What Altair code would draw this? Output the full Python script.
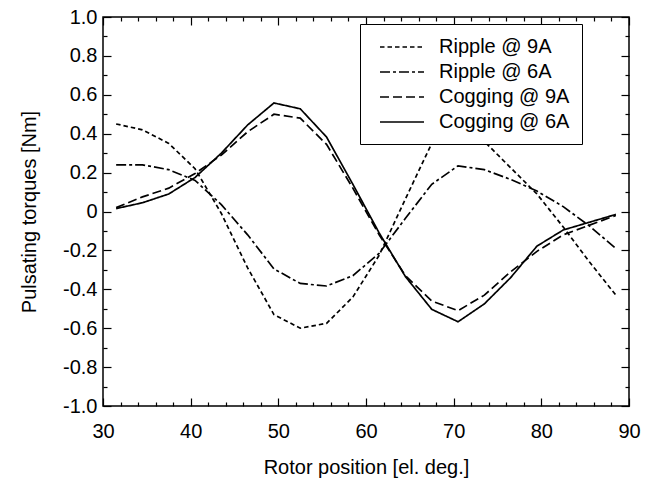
import altair as alt
import pandas as pd

# ---- data ----
x_deg = [31.5, 34.5, 37.5, 40.5, 43.5, 46.5, 49.5, 52.5, 55.5, 58.5,
         61.5, 64.5, 67.5, 70.5, 73.5, 76.5, 79.5, 82.5, 85.5, 88.5]
ripple_9a = [0.45, 0.42, 0.35, 0.22, -0.01, -0.29, -0.53, -0.60, -0.575, -0.44,
             -0.225, 0.065, 0.35, 0.58, 0.36, 0.225, 0.09, -0.08, -0.26, -0.43]
ripple_6a = [0.24, 0.24, 0.215, 0.16, 0.035, -0.12, -0.295, -0.37, -0.383, -0.33,
             -0.215, -0.035, 0.14, 0.235, 0.215, 0.165, 0.105, 0.025, -0.075, -0.19]
cogging_9a = [0.02, 0.075, 0.12, 0.195, 0.29, 0.41, 0.50, 0.48, 0.345, 0.12,
              -0.12, -0.33, -0.46, -0.51, -0.43, -0.31, -0.205, -0.12, -0.07, -0.02]
cogging_6a = [0.015, 0.045, 0.09, 0.175, 0.30, 0.445, 0.558, 0.528, 0.383, 0.14,
              -0.11, -0.335, -0.503, -0.567, -0.475, -0.34, -0.178, -0.095, -0.055, -0.015]
series_names = ["Ripple @ 9A", "Ripple @ 6A", "Cogging @ 9A", "Cogging @ 6A"]

x_major = [30, 40, 50, 60, 70, 80, 90]
x_minor = [32, 34, 36, 38, 42, 44, 46, 48, 52, 54, 56, 58, 62, 64, 66, 68,
           72, 74, 76, 78, 82, 84, 86, 88]
y_major = [-1.0, -0.8, -0.6, -0.4, -0.2, 0.0, 0.2, 0.4, 0.6, 0.8, 1.0]
y_minor = [-0.9, -0.7, -0.5, -0.3, -0.1, 0.1, 0.3, 0.5, 0.7, 0.9]

rows = []
for name, vals in zip(series_names, [ripple_9a, ripple_6a, cogging_9a, cogging_6a]):
    for xv, yv in zip(x_deg, vals):
        rows.append({"pos": xv, "torque": yv, "series": name})
df = pd.DataFrame(rows)

FONT = "Liberation Sans"
xs = alt.Scale(domain=[30, 90], nice=False, zero=False)
ys = alt.Scale(domain=[-1, 1], nice=False, zero=False)
dash_range = [[4.5, 3], [10, 3, 3, 3], [9, 4], [1, 0]]

label_expr = ("datum.value == 0 ? '0' : (datum.value < 0 ? '-' : '') + "
              "format(abs(datum.value), '.1f')")

main = alt.Chart(df).mark_line(strokeWidth=1.7, color="black").encode(
    x=alt.X("pos:Q", scale=xs, axis=alt.Axis(
        orient="bottom", values=x_major, ticks=False, tickSize=0, domain=False,
        grid=False, labelFlush=False, labelPadding=15, labelFontSize=20,
        labelFont=FONT, labelColor="black", format="d",
        title="Rotor position [el. deg.]", titleFont=FONT, titleFontSize=20,
        titleFontWeight="normal", titleColor="black", titleY=67,
        titleBaseline="alphabetic")),
    y=alt.Y("torque:Q", scale=ys, axis=alt.Axis(
        orient="left", values=y_major, ticks=False, tickSize=0, domain=False,
        grid=False, labelPadding=6, labelFontSize=20, labelFont=FONT,
        labelColor="black", labelExpr=label_expr,
        title="Pulsating torques [Nm]", titleFont=FONT, titleFontSize=20,
        titleFontWeight="normal", titleColor="black", titleX=-68,
        titleBaseline="alphabetic")),
    strokeDash=alt.StrokeDash("series:N", scale=alt.Scale(domain=series_names, range=dash_range),
        legend=alt.Legend(
            title=None, orient="none", legendX=257, legendY=7,
            strokeColor="black", fillColor="white", padding=12,
            symbolType="M-2.2,0H2.2", symbolSize=400, symbolStrokeColor="black",
            symbolStrokeWidth=1.5, symbolOffset=19, labelOffset=26,
            labelFontSize=20, labelFont=FONT, labelColor="black",
            rowPadding=4, labelLimit=300)),
)


def tick_layer(xorient, yorient, xvals, yvals, size):
    return alt.Chart(df).mark_point(opacity=0).encode(
        x=alt.X("pos:Q", scale=xs, axis=alt.Axis(
            orient=xorient, values=xvals, offset=-size, tickSize=size,
            labels=False, domain=False, grid=False, title=None,
            tickColor="black", tickWidth=1.2)),
        y=alt.Y("torque:Q", scale=ys, axis=alt.Axis(
            orient=yorient, values=yvals, offset=-size, tickSize=size,
            labels=False, domain=False, grid=False, title=None,
            tickColor="black", tickWidth=1.2)),
    )


chart = alt.layer(
    main,
    tick_layer("bottom", "left", x_major, y_major, 8),
    tick_layer("bottom", "left", x_minor, y_minor, 4),
    tick_layer("top", "right", x_major, y_major, 8),
    tick_layer("top", "right", x_minor, y_minor, 4),
).resolve_axis(x="independent", y="independent").properties(
    width=526, height=389,
    autosize=alt.AutoSizeParams(type="none"),
    padding={"left": 103, "top": 17, "right": 23, "bottom": 72},
    background="white",
).configure_view(stroke="black", strokeWidth=1.5)

chart.save("out.html", embed_options={"renderer": "svg", "actions": False})
